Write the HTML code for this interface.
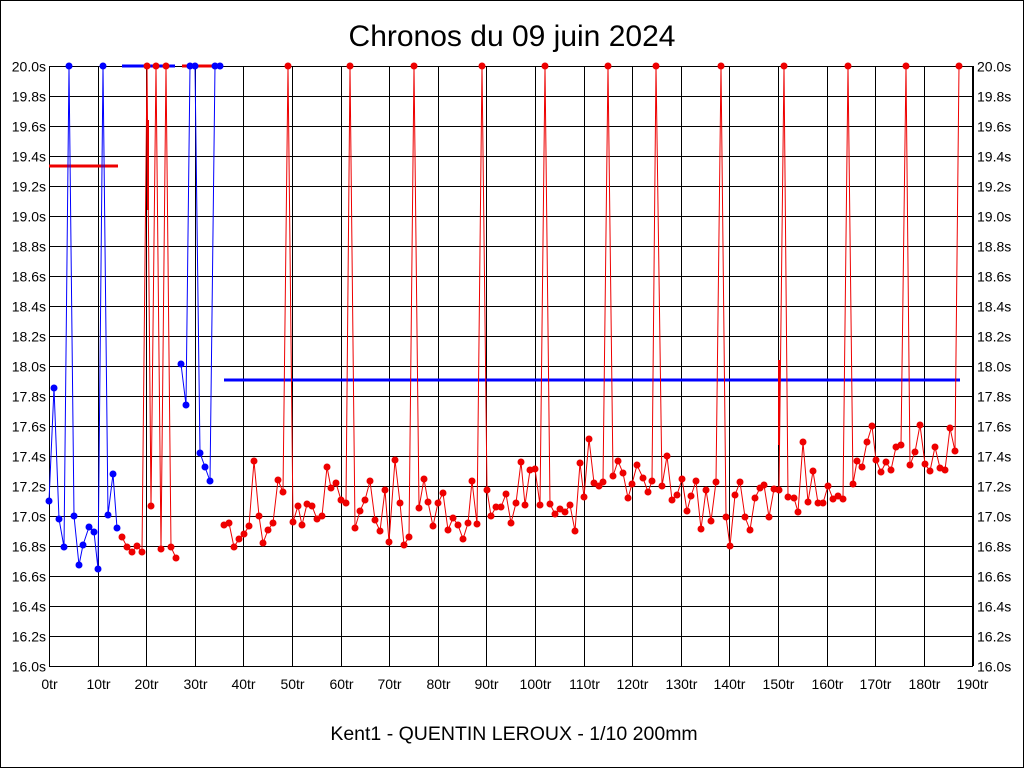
<!DOCTYPE html>
<html><head><meta charset="utf-8"><style>
html,body{margin:0;padding:0;background:#fff;}
svg{display:block;font-family:"Liberation Sans",sans-serif;}
</style></head><body>
<svg width="1024" height="768" viewBox="0 0 1024 768">
<rect width="1024" height="768" fill="#fff"/>
<rect x="0.5" y="0.5" width="1023" height="767" fill="none" stroke="#000"/>
<text x="512" y="46" font-size="30" text-anchor="middle">Chronos du 09 juin 2024</text>
<text x="514" y="740" font-size="19.5" text-anchor="middle">Kent1 - QUENTIN LEROUX - 1/10 200mm</text>
<g id="grid" stroke="#000" stroke-width="1"></g>
<g id="labels" font-size="14"></g>
<g id="series"></g>
</svg>
<script>
const NS="http://www.w3.org/2000/svg";
const g=document.getElementById('grid'),L=document.getElementById('labels'),S=document.getElementById('series');
function el(p,tag,a,t){const e=document.createElementNS(NS,tag);for(const k in a)e.setAttribute(k,a[k]);if(t)e.textContent=t;p.appendChild(e);return e;}
const x0=49,x1=973,y0=66,y1=666;
for(let i=0;i<=20;i++){const y=y0+i*30+0.5;el(g,'line',{x1:x0,x2:x1,y1:y,y2:y});
const v=(20-i*0.2).toFixed(1)+'s';el(L,'text',{x:46,y:y+5,'text-anchor':'end'},v);el(L,'text',{x:977,y:y+5},v);}
for(let i=0;i<=19;i++){const x=Math.round(x0+i*48.6)+0.5;el(g,'line',{x1:x,x2:x,y1:y0,y2:y1});
el(L,'text',{x:x,y:689,'text-anchor':'middle'},(i*10)+'tr');}
el(g,'line',{x1:x1+0.5,x2:x1+0.5,y1:y0,y2:y1});
function ser(pts,c){el(S,'polyline',{points:pts.map(p=>p.join(',')).join(' '),fill:'none',stroke:c,'stroke-width':1});
pts.forEach(p=>el(S,'circle',{cx:p[0],cy:p[1],r:3.5,fill:c}));}
el(S,'line',{x1:49,x2:118,y1:166,y2:166,stroke:'#e00','stroke-width':3});
el(S,'line',{x1:122,x2:175,y1:66,y2:66,stroke:'#00f','stroke-width':3});
el(S,'line',{x1:182,x2:222,y1:66,y2:66,stroke:'#e00','stroke-width':3});
el(S,'line',{x1:224,x2:960,y1:380,y2:380,stroke:'#00f','stroke-width':3});
const b1=[[49,501],[54,388],[59,519],[64,547],[69,66],[74,516],[79,565],[83,545],[89,527],[94,532],[98,569],[103,66],[108,515],[113,474],[117,528]];
const r1=[[122,537],[127,547],[132,552],[137,546],[142,552],[147,66],[151,506],[156,66],[161,549],[166,66],[171,547],[176,558]];
const b2=[[181,364],[186,405],[190,66],[195,66],[200,453],[205,467],[210,481],[215,66],[220,66]];
const r2=[[224,525],[229,523],[234,547],[239,539],[244,534],[249,526],[254,461],[259,516],[263,543],[268,530],[273,523],[278,480],[283,492],[288,66],
[293,522],[298,506],[302,525],[307,504],[312,506],[317,519],[322,516],[327,467],[331,488],[336,483],[341,500],[346,503],[350,66],[355,528],[360,511],[365,500],[370,481],[375,520],[380,531],[385,490],[389,542],[395,460],[400,503],[404,545],[409,537],[414,66],[419,508],[424,479],[428,502],[433,526],[438,503],[443,493],[448,530],[453,518],[458,525],[463,539],[468,523],[472,481],[477,524],[482,66],[487,490],[491,516],[496,507],[501,507],[506,494],[511,523],[516,503],[521,462],[525,505],[530,470],[535,469],[540,505],[545,66],[550,504],[555,514],[560,509],[565,512],[570,505],[575,531],[580,463],[584,497],[589,439],[594,483],[599,486],[603,482],[608,66],[613,476],[618,461],[623,473],[628,498],[632,484],[637,465],[643,478],[648,492],[652,481],[656,66],[662,486],[667,456],[672,500],[677,495],[682,479],[687,511],[691,496],[696,481],[701,529],[706,490],[711,521],[716,482],[721,66],[726,517],[730,546],[735,495],[740,482],[745,517],[750,530],[755,498],[760,488],[764,485],[769,517],[774,489],[779,490],[784,66],[788,497],[794,498],[798,512],[803,442],[808,502],[813,471],[818,503],[823,503],[828,486],[833,499],[838,496],[843,499],[848,66],[853,484],[857,461],[862,467],[867,442],[872,426],[876,460],[881,472],[886,462],[891,470],[896,447],[901,445],[906,66],[910,465],[915,452],[920,425],[925,464],[930,471],[935,447],[940,468],[945,470],[950,428],[955,451],[959,66]];
ser(b1,'#00f');ser(r1,'#e00');ser(b2,'#00f');ser(r2,'#e00');
el(S,'line',{x1:148,x2:148,y1:120,y2:210,stroke:'#e00','stroke-width':2});
el(S,'line',{x1:779,x2:779,y1:360,y2:445,stroke:'#e00','stroke-width':2});
</script>
</body></html>
